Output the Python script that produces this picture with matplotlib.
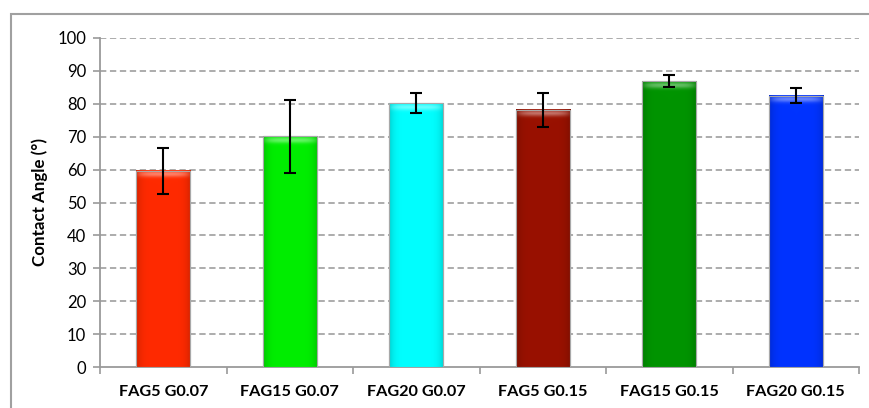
import numpy as np
import matplotlib
matplotlib.use("Agg")
import matplotlib.pyplot as plt
from matplotlib.patches import Rectangle
from matplotlib.colors import to_rgb

# Contact angle measurements (mean and standard deviation, degrees)
samples = ["FAG5 G0.07", "FAG15 G0.07", "FAG20 G0.07",
           "FAG5 G0.15", "FAG15 G0.15", "FAG20 G0.15"]
angle_mean = [59.6, 70.1, 80.2, 78.2, 86.9, 82.5]
angle_sd = [6.9, 11.0, 3.1, 5.1, 1.9, 2.2]
bar_colors = ["#FF2A00", "#00EE00", "#00FFFF", "#991100", "#009400", "#0033FF"]
y_ticks = list(range(0, 101, 10))

plt.rcParams["font.family"] = ["Lato", "DejaVu Sans"]

W, H = 869, 408
fig = plt.figure(figsize=(W / 100, H / 100), dpi=100)
ax = fig.add_axes([100 / W, 1 - 367 / H, 759 / W, 329 / H])

x = np.arange(len(samples))
bw = 0.43
bars = ax.bar(x, angle_mean, width=bw, color=bar_colors,
              edgecolor="#9A9A9A", linewidth=0.8, zorder=3)

# Soft glossy shading on every bar: darker sides and a light band at the top
for b, c in zip(bars, bar_colors):
    x0, w, h = b.get_x(), b.get_width(), b.get_height()
    base = np.array(to_rgb(c))
    nx, ny = 60, 200
    u = np.linspace(-1, 1, nx)
    side = 1 - 0.18 * np.abs(u) ** 6
    img = np.ones((ny, nx, 3)) * base
    img *= side[None, :, None]
    depth_px = 329 * h / 100
    rows = np.arange(ny) / ny * depth_px
    band = np.exp(-((rows - 3.5) / 3.0) ** 2) * 0.4
    band2d = band[:, None] * (1 - 0.8 * np.abs(u)[None, :] ** 4)
    img = img + (1 - img) * band2d[:, :, None]
    ax.imshow(np.clip(img, 0, 1), extent=(x0, x0 + w, 0, h), aspect="auto",
              origin="upper", zorder=3.5, interpolation="bilinear")
    ax.add_patch(Rectangle((x0, 0), w, h, fill=False, edgecolor="#A8A8A8",
                           linewidth=0.8, zorder=3.6))

ax.errorbar(x, angle_mean, yerr=angle_sd, fmt="none", ecolor="black",
            elinewidth=1.5, capsize=4, capthick=1.5, zorder=5)

ax.set_xlim(-0.5, len(samples) - 0.5)
ax.set_ylim(0, 100)
ax.set_yticks(y_ticks)
ax.set_yticklabels([str(t) for t in y_ticks], fontsize=12)
ax.set_xticks(x)
ax.set_xticklabels(samples, fontsize=11.7, fontweight="bold")
ax.set_xticks(np.arange(-0.5, len(samples)), minor=True)
ax.tick_params(axis="x", which="major", length=0, pad=13)
ax.tick_params(axis="x", which="minor", length=5, color="#9A9A9A", width=1.2)
ax.tick_params(axis="y", length=5, color="#9A9A9A", width=1.2, pad=5)

for t in y_ticks[1:]:
    ax.axhline(t, color="#A6A6A6", linewidth=1.3, linestyle=(0, (3.5, 2)), zorder=1)

for s in ["top", "right"]:
    ax.spines[s].set_visible(False)
for s in ["left", "bottom"]:
    ax.spines[s].set_color("#9A9A9A")
    ax.spines[s].set_linewidth(1.3)

ax.set_ylabel("Contact Angle (°)", fontsize=12.2, fontweight="bold", labelpad=7)

# Outer chart frame
fig.add_artist(Rectangle((11 / W, -0.2), 1.5, (H - 14) / H + 0.2,
                         transform=fig.transFigure, fill=False,
                         edgecolor="#A0A0A0", linewidth=1.5))

fig.savefig("out.png", dpi=100)
